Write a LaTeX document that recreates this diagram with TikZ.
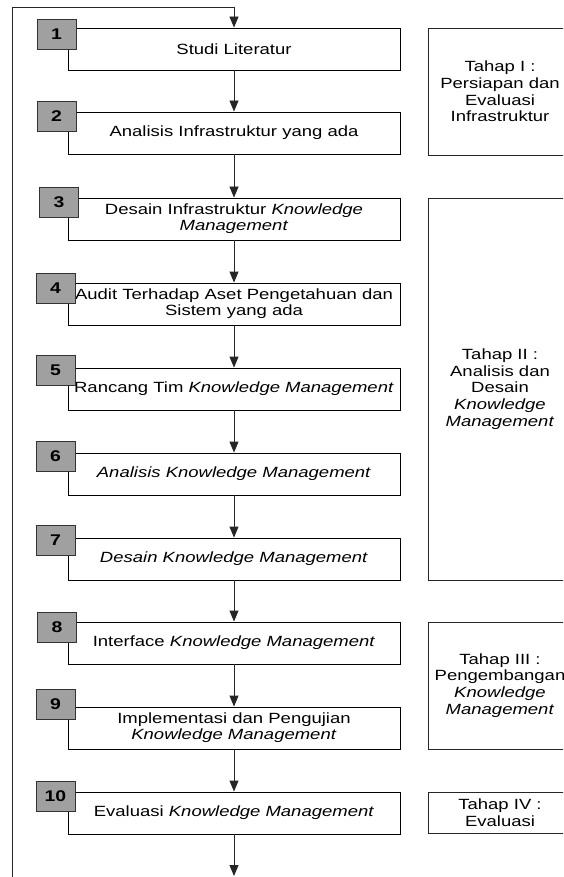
\documentclass[tikz,border=0pt]{standalone}
\usepackage{fontspec}
\setmainfont{Liberation Sans}[FakeStretch=1.25]
\usetikzlibrary{arrows.meta}
\definecolor{numgray}{RGB}{160,160,160}
\tikzset{
  mainbox/.style={draw=black, line width=0.9pt, fill=white, minimum width=332pt, minimum height=42pt, inner sep=0pt, align=center, font=\fontsize{14.8}{16}\selectfont},
  numbox/.style={draw=black!80, line width=0.9pt, fill=numgray, minimum width=39pt, minimum height=30pt, inner sep=0pt, font=\fontsize{15.5}{16}\selectfont\bfseries},
  stagebox/.style={draw=black!85, line width=0.8pt, fill=white, minimum width=144pt, inner sep=0pt, align=center, font=\fontsize{14.8}{16.7}\selectfont},
  arr/.style={draw=black!85, line width=0.9pt, -{Triangle[width=9pt,length=11pt]}},
  loopline/.style={draw=black!85, line width=0.9pt}
}
\begin{document}
\begin{tikzpicture}[x=1pt,y=-1pt]
\path[use as bounding box, clip] (0,0) rectangle (563,877);
\fill[white] (0,0) rectangle (563,877);
% main boxes
\node[mainbox] (b1) at (234,49) {Studi Literatur};
\node[mainbox] (b2) at (234,133) {Analisis Infrastruktur yang ada};
\node[mainbox] (b3) at (234,219) {Desain Infrastruktur \textit{Knowledge}\\\textit{Management}};
\node[mainbox] (b4) at (234,304) {Audit Terhadap Aset Pengetahuan dan\\Sistem yang ada};
\node[mainbox] (b5) at (234,389) {Rancang Tim \textit{Knowledge Management}};
\node[mainbox] (b6) at (234,474) {\textit{Analisis Knowledge Management}};
\node[mainbox] (b7) at (234,559) {\textit{Desain Knowledge Management}};
\node[mainbox] (b8) at (234,643) {Interface \textit{Knowledge Management}};
\node[mainbox] (b9) at (234,728) {Implementasi dan Pengujian\\\textit{Knowledge Management}};
\node[mainbox] (b10) at (234,813) {Evaluasi \textit{Knowledge Management}};
% number boxes
\node[numbox] (n1) at (56.5,34) {1};
\node[numbox] (n2) at (56.5,116) {2};
\node[numbox] (n3) at (59,202) {3};
\node[numbox] (n4) at (55.5,288) {4};
\node[numbox] (n5) at (55.5,370) {5};
\node[numbox] (n6) at (55.5,456) {6};
\node[numbox] (n7) at (55.5,540) {7};
\node[numbox] (n8) at (57,627) {8};
\node[numbox] (n9) at (55.5,704) {9};
\node[numbox] (n10) at (55.5,796) {10};
% stage boxes
\node[stagebox, minimum height=127pt] (s1) at (500,91.5) {Tahap I :\\Persiapan dan\\Evaluasi\\Infrastruktur};
\node[stagebox, minimum height=382pt] (s2) at (500,389) {Tahap II :\\Analisis dan\\Desain\\\textit{Knowledge}\\\textit{Management}};
\node[stagebox, minimum height=127pt] (s3) at (500,685.5) {Tahap III :\\Pengembangan\\\textit{Knowledge}\\\textit{Management}};
\node[stagebox, minimum height=41pt] (s4) at (500,812.5) {Tahap IV :\\Evaluasi};
% connectors
\coordinate (bl) at (12,878);
\coordinate (tc) at (234,7);
\coordinate (endc) at (234,876);
\draw[arr] (bl) |- (tc) -- (b1.north);
\draw[arr] (b1.south) -- (b2.north);
\draw[arr] (b2.south) -- (b3.north);
\draw[arr] (b3.south) -- (b4.north);
\draw[arr] (b4.south) -- (b5.north);
\draw[arr] (b5.south) -- (b6.north);
\draw[arr] (b6.south) -- (b7.north);
\draw[arr] (b7.south) -- (b8.north);
\draw[arr] (b8.south) -- (b9.north);
\draw[arr] (b9.south) -- (b10.north);
\draw[arr] (b10.south) -- (endc);
\end{tikzpicture}
\end{document}
